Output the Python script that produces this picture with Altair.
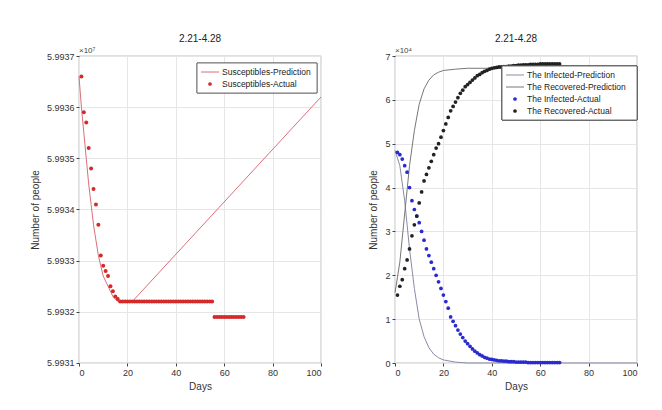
import altair as alt
import pandas as pd

FONT = "Liberation Sans"

# ---- left panel: susceptibles (units of 1e7) ----
s_days = list(range(1, 69))
s_actual = [5.99366, 5.99359, 5.99357, 5.99352, 5.99348, 5.99344, 5.99341, 5.99337,
            5.99331, 5.99329, 5.99328, 5.99327, 5.99325, 5.99324, 5.99323, 5.993225] + \
           [5.99322] * 39 + [5.99319] * 13
s_pred_days = [0, 1, 2, 3, 4, 5, 6, 7, 8, 9, 10, 11, 12, 13, 14, 15, 16, 18, 20, 22, 100]
s_pred = [5.99366, 5.99360, 5.99355, 5.99350, 5.99345, 5.99341, 5.99337, 5.99334,
          5.99331, 5.99329, 5.99327, 5.99326, 5.99325, 5.99324, 5.99323, 5.993225,
          5.99322, 5.993218, 5.99322, 5.99322, 5.99362]
s_ticks = [5.9931, 5.9932, 5.9933, 5.9934, 5.9935, 5.9936, 5.9937]

# ---- right panel: infected / recovered (units of 1e4) ----
r_days = list(range(1, 69))
i_actual = [4.8, 4.75, 4.65, 4.5, 4.35, 4.0, 3.7, 3.5, 3.35, 3.2, 3.0, 2.8, 2.6, 2.45,
            2.3, 2.15, 2.0, 1.85, 1.7, 1.55, 1.4, 1.25, 1.05, 0.95, 0.85, 0.75, 0.66,
            0.58, 0.5, 0.44, 0.38, 0.32, 0.27, 0.23, 0.19, 0.16, 0.13, 0.11, 0.09, 0.08,
            0.07, 0.06, 0.05, 0.05, 0.04, 0.04, 0.03, 0.03, 0.03, 0.02, 0.02, 0.02, 0.02,
            0.02, 0.01, 0.01, 0.01, 0.01, 0.01, 0.01, 0.01, 0.01, 0.01, 0.01, 0.01, 0.01,
            0.01, 0.01]
r_actual = [1.55, 1.75, 1.9, 2.15, 2.35, 2.6, 2.9, 3.15, 3.35, 3.65, 3.9, 4.15, 4.3, 4.45,
            4.6, 4.75, 4.9, 5.0, 5.15, 5.3, 5.45, 5.6, 5.75, 5.85, 5.95, 6.05, 6.15, 6.22,
            6.3, 6.35, 6.4, 6.45, 6.5, 6.55, 6.58, 6.62, 6.65, 6.67, 6.7, 6.72, 6.73, 6.74,
            6.75, 6.75, 6.76, 6.76, 6.77, 6.77, 6.78, 6.78, 6.79, 6.79, 6.8, 6.8, 6.8, 6.81,
            6.81, 6.81, 6.81, 6.82, 6.82, 6.82, 6.82, 6.82, 6.82, 6.82, 6.82, 6.82]
p_days = [0, 2, 4, 6, 8, 10, 12, 14, 16, 18, 20, 25, 30, 100]
i_pred = [4.85, 4.5, 3.7, 2.6, 1.7, 1.0, 0.6, 0.35, 0.2, 0.12, 0.07, 0.02, 0.0, 0.0]
r_pred = [1.6, 2.3, 3.4, 4.5, 5.3, 5.9, 6.25, 6.45, 6.57, 6.63, 6.67, 6.7, 6.72, 6.72]
r_ticks = [0, 1, 2, 3, 4, 5, 6, 7]

W, H = 242, 307


def axes(y_domain, y_values, y_fmt):
    x = alt.X("day:Q", scale=alt.Scale(domain=[0, 100], nice=False),
              axis=alt.Axis(title="Days", values=[0, 20, 40, 60, 80, 100]))
    y = alt.Y("v:Q", scale=alt.Scale(domain=y_domain, nice=False, zero=False),
              axis=alt.Axis(title="Number of people", values=y_values, format=y_fmt))
    return x, y


def legend(entries, x0, y0, w):
    # entries: (label, kind, color)
    rows = pd.DataFrame({"label": [e[0] for e in entries]})
    layers = [alt.Chart(rows).mark_rect(fill="white", stroke="#555", strokeWidth=0.8).encode(
        x=alt.value(x0), x2=alt.value(x0 + w),
        y=alt.value(y0), y2=alt.value(y0 + 12 * len(entries) + 6))]
    for k, (label, kind, color) in enumerate(entries):
        yy = y0 + 9 + 12 * k
        d = pd.DataFrame({"label": [label]})
        if kind == "line":
            layers.append(alt.Chart(d).mark_rule(color=color, strokeWidth=1).encode(
                x=alt.value(x0 + 4), x2=alt.value(x0 + 22), y=alt.value(yy)))
        else:
            layers.append(alt.Chart(d).mark_circle(color=color, size=14, opacity=1).encode(
                x=alt.value(x0 + 13), y=alt.value(yy)))
        layers.append(alt.Chart(d).mark_text(align="left", baseline="middle", fontSize=8.5,
                                             font=FONT, color="#222").encode(
            x=alt.value(x0 + 25), y=alt.value(yy), text="label:N"))
    return layers


def mult(text):
    return alt.Chart(pd.DataFrame({"t": [text]})).mark_text(
        align="left", baseline="bottom", fontSize=8, font=FONT, color="#444").encode(
        x=alt.value(0), y=alt.value(-1), text="t:N")


# left
sx, sy = axes([s_ticks[0] - 1e-7, s_ticks[-1] + 1e-7], s_ticks, ".4f")
s_act = pd.DataFrame({"day": s_days, "v": s_actual})
s_pr = pd.DataFrame({"day": s_pred_days, "v": s_pred})
left = alt.layer(
    alt.Chart(s_pr).mark_line(color="#d9707a", strokeWidth=1).encode(x=sx, y=sy),
    alt.Chart(s_act).mark_circle(color="#d42a2a", size=16, opacity=1).encode(x=sx, y=sy),
    *legend([("Susceptibles-Prediction", "line", "#d9707a"),
             ("Susceptibles-Actual", "point", "#d42a2a")], 118, 7, 120),
    mult("×10⁷"),
).properties(width=W, height=H, title="2.21-4.28")

# right
rx, ry = axes([0, 7], r_ticks, "d")
ia = pd.DataFrame({"day": r_days, "v": i_actual})
ra = pd.DataFrame({"day": r_days, "v": r_actual})
ip = pd.DataFrame({"day": p_days, "v": i_pred})
rp = pd.DataFrame({"day": p_days, "v": r_pred})
right = alt.layer(
    alt.Chart(ip).mark_line(color="#8a8aa6", strokeWidth=1).encode(x=rx, y=ry),
    alt.Chart(rp).mark_line(color="#777", strokeWidth=1).encode(x=rx, y=ry),
    alt.Chart(ia).mark_circle(color="#2a2ad0", size=14, opacity=1).encode(x=rx, y=ry),
    alt.Chart(ra).mark_circle(color="#222", size=14, opacity=1).encode(x=rx, y=ry),
    *legend([("The Infected-Prediction", "line", "#8a8aa6"),
             ("The Recovered-Prediction", "line", "#777"),
             ("The Infected-Actual", "point", "#2a2ad0"),
             ("The Recovered-Actual", "point", "#222")], 107, 10, 135),
    mult("×10⁴"),
).properties(width=W, height=H, title="2.21-4.28")

chart = alt.hconcat(left, right, spacing=44).properties(
    padding={"left": 22, "top": 25, "right": 5, "bottom": 5}
).configure_view(stroke="#444", strokeWidth=0.8).configure_axis(
    labelFont=FONT, titleFont=FONT, labelFontSize=9, titleFontSize=10,
    labelColor="#333", titleColor="#333", titleFontWeight="normal",
    gridColor="#e6e6e6", domain=False, tickColor="#444", ticks=True, tickSize=3,
    labelPadding=2,
).configure_axisY(titlePadding=6).configure_title(
    font=FONT, fontSize=10, fontWeight="normal", color="#222", offset=3)

chart.save("out.html", embed_options={"renderer": "svg", "actions": False})
